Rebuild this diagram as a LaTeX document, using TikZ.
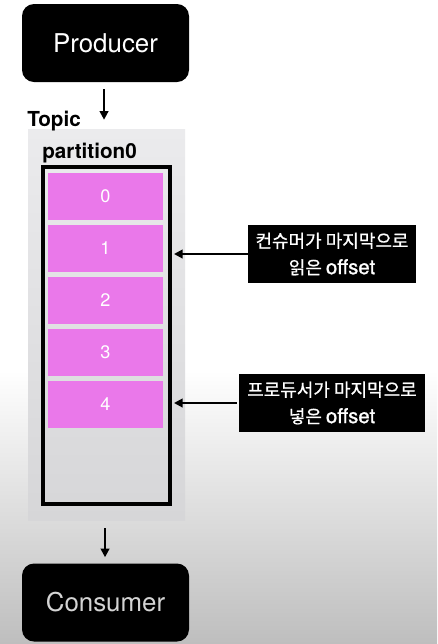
\documentclass[tikz,border=0pt]{standalone}
\usepackage{fontspec}
\setmainfont{TeX Gyre Heros}
\newfontfamily\kr[FakeBold=0.8]{Noto Sans CJK KR}
\newfontfamily\lat[FakeBold=1]{TeX Gyre Heros}
\usetikzlibrary{arrows.meta}
\definecolor{cellpink}{RGB}{234,120,234}
\definecolor{consgray}{RGB}{212,212,212}
\tikzset{
  blackbox/.style={draw=none,fill=black,rounded corners=9pt,minimum width=125.25pt,minimum height=58.5pt,inner sep=0pt,font=\fontsize{19.4}{23}\selectfont},
  cellbox/.style={fill=cellpink,minimum width=86.25pt,minimum height=35.25pt,inner sep=0pt,text=white,font=\fontsize{13.6}{16}\selectfont},
  labbox/.style={fill=black,text=white,minimum height=43.5pt,inner sep=0pt,align=center,font=\kr\fontsize{13.5}{20}\selectfont},
  arr/.style={line width=1.5pt,-{Triangle[length=6.5pt,width=6.5pt]}},
  heading/.style={anchor=base west,inner sep=0pt,font=\bfseries\fontsize{15.5}{18}\selectfont}
}
\newcommand{\offs}{{\lat\fontsize{15.3}{20}\selectfont offset}}
\begin{document}
\begin{tikzpicture}[x=0.75pt,y=-0.75pt]
\useasboundingbox (0,0) rectangle (437,644);
\fill[white] (0,0) rectangle (437,644);
\shade[top color=white,bottom color={rgb,255:red,190;green,190;blue,190}] (0,370) rectangle (437,644);
% topic area
\node[minimum width=117.75pt,minimum height=293.25pt,inner sep=0pt,draw=none,
  top color={rgb,255:red,235;green,235;blue,237},bottom color={rgb,255:red,214;green,214;blue,216}] (topic) at (106.5,324.5) {};
\node[heading] (topiclab) at (27,126) {Topic};
\node[heading] (partlab) at (42,158) {partition0};
% cells
\node[cellbox] (c0) at (105.5,196.5) {0};
\node[cellbox] (c1) at (105.5,248.5) {1};
\node[cellbox] (c2) at (105.5,300) {2};
\node[cellbox] (c3) at (105.5,352) {3};
\node[cellbox] (c4) at (105.5,404) {4};
% partition border
\node[draw=black,line width=3pt,minimum width=95.25pt,minimum height=252.75pt,inner sep=0pt] (part) at (106.5,335.5) {};
% producer / consumer
\node[blackbox,text=white] (prod) at (105.5,43) {Producer};
\node[blackbox,text=consgray] (cons) at (105.5,602.5) {Consumer};
% labels
\node[labbox,minimum width=126pt] (lab1) at (332,254) {컨슈머가 마지막으로\\읽은 \offs};
\node[labbox,minimum width=139.5pt] (lab2) at (332,403) {프로듀서가 마지막으로\\넣은 \offs};
% arrows
\draw[arr,shorten <=5.25pt,shorten >=6.75pt] ([xshift=-1.1pt]prod.south) -- ([xshift=-1.1pt]prod.south |- topic.north);
\draw[arr,shorten <=6pt,shorten >=4.5pt] ([xshift=-1.1pt]topic.south) -- ([xshift=-1.1pt]topic.south |- cons.north);
\draw[arr,shorten >=1.5pt] (lab1.west) -- (lab1.west -| part.east);
\draw[arr,shorten <=1.5pt,shorten >=1.5pt] (lab2.west) -- (lab2.west -| part.east);
\end{tikzpicture}
\end{document}
